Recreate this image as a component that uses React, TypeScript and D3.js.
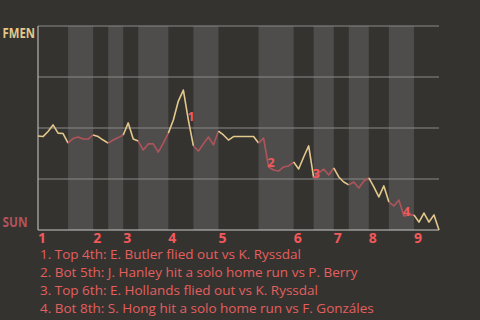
import React from "react";
import * as d3 from "d3";

// Win probability for FMEN (0 = SUN wins, 100 = FMEN wins), one value per play
const winProb: number[] = [
  46.1, 45.8, 48.3, 51.5, 47.5, 47.3, 42.6, 44.9, 45.6, 44.6,
  44.6, 46.6, 45.8, 44.1, 42.6, 44.1, 45.3, 46.6, 52.5, 44.6,
  43.6, 39.2, 42.2, 42.2, 38.2, 42.6, 47.5, 53.9, 63.2, 68.6,
  53.9, 41.2, 38.7, 42.2, 45.6, 41.7, 48.5, 46.6, 44.1, 45.8,
  45.8, 45.8, 45.8, 45.8, 42.6, 45.1, 30.9, 29.4, 28.9, 30.9,
  31.4, 33.3, 29.9, 35.8, 41.2, 25.5, 27.9, 29.9, 27.0, 30.4,
  26.0, 23.5, 22.1, 23.5, 20.6, 24.0, 25.5, 21.1, 16.2, 21.6,
  13.7, 11.8, 14.7, 6.9, 7.4, 7.4, 3.9, 8.3, 3.9, 7.4,
  0,
];

// number of plays in each half inning (top 1st, bot 1st, ...)
const halfInningPlays: number[] = [6, 5, 3, 3, 3, 6, 5, 5, 8, 7, 4, 4, 3, 4, 4, 5, 5];
const inningLabels: string[] = ["1", "2", "3", "4", "5", "6", "7", "8", "9"];

const teams: string[] = ["FMEN", "SUN"];
const yTicks: number[] = [0, 25, 50, 75, 100];

const notePlays: number[] = [30, 46, 55, 73];
const noteLabels: string[] = ["1", "2", "3", "4"];
const noteTexts: string[] = [
  "1. Top 4th: E. Butler flied out vs K. Ryssdal",
  "2. Bot 5th: J. Hanley hit a solo home run vs P. Berry",
  "3. Top 6th: E. Hollands flied out vs K. Ryssdal",
  "4. Bot 8th: S. Hong hit a solo home run vs F. Gonzáles",
];

const W = 480;
const H = 320;
const BG = "#353330";
const BAND = "#4e4d4b";
const GRID = "#8a8987";
const TAN = "#e3c88c";
const RED = "#b0545b";
const NOTE = "#f2595b";
const TEXT = "#e45f5e";
const FONT = "'Open Sans', 'Noto Sans', sans-serif";

export default function App() {
  const left = 38;
  const right = 439;
  const top = 26;
  const bottom = 230;
  const n = winProb.length - 1;
  const x = d3.scaleLinear().domain([0, n]).range([left, right]);
  const y = d3.scaleLinear().domain([0, 100]).range([bottom, top]);

  // half inning boundaries
  const bounds: number[] = [0];
  halfInningPlays.forEach((c) => bounds.push(bounds[bounds.length - 1] + c));

  const line = d3
    .line<number>()
    .x((i) => x(i))
    .y((i) => y(winProb[i]));

  const segs = halfInningPlays.map((_, h) => {
    const idx = d3.range(bounds[h], bounds[h + 1] + 1);
    return { d: line(idx) || "", color: h % 2 === 0 ? TAN : RED, key: h };
  });

  return (
    <svg
      width={W}
      height={H}
      style={{ position: "absolute", left: 0, top: 0, background: BG, display: "block" }}
    >
      <rect x={0} y={0} width={W} height={H} fill={BG} />
      {halfInningPlays.map((_, h) =>
        h % 2 === 1 ? (
          <rect
            key={"b" + h}
            x={x(bounds[h])}
            y={top}
            width={x(bounds[h + 1]) - x(bounds[h])}
            height={bottom - top}
            fill={BAND}
          />
        ) : null
      )}
      {yTicks.map((t) => (
        <line
          key={"g" + t}
          x1={left}
          x2={right}
          y1={y(t)}
          y2={y(t)}
          stroke={t === 0 ? "#c9c8c6" : GRID}
          strokeWidth={1.2}
        />
      ))}
      <line x1={left} x2={left} y1={top} y2={bottom} stroke="#b5b4b2" strokeWidth={1.2} />
      {segs.map((s) => (
        <path key={s.key} d={s.d} fill="none" stroke={s.color} strokeWidth={1.6} strokeLinejoin="round" />
      ))}
      {notePlays.map((p, k) => (
        <text
          key={"n" + k}
          x={x(p) + 2.5}
          y={y(winProb[p]) + 0.5}
          fill={NOTE}
          fontFamily={FONT}
          fontWeight="bold"
          fontSize={13}
          textAnchor="middle"
        >
          {noteLabels[k]}
        </text>
      ))}
      <text
        x={2.5}
        y={38.3}
        fill={TAN}
        fontFamily={FONT}
        fontWeight="bold"
        fontSize={15}
        textLength={32.5}
        lengthAdjust="spacingAndGlyphs"
      >
        {teams[0]}
      </text>
      <text
        x={2.5}
        y={226.5}
        fill={RED}
        fontFamily={FONT}
        fontWeight="bold"
        fontSize={13.5}
        textLength={25}
        lengthAdjust="spacingAndGlyphs"
      >
        {teams[1]}
      </text>
      {inningLabels.map((l, k) => (
        <text
          key={"i" + k}
          x={x(bounds[k * 2])}
          y={243}
          fill={NOTE}
          fontFamily={FONT}
          fontWeight="bold"
          fontSize={14}
        >
          {l}
        </text>
      ))}
      {noteTexts.map((t, k) => (
        <text key={"t" + k} x={40} y={259.3 + k * 17.8} fill={TEXT} fontFamily={FONT} fontSize={13.5}>
          {t}
        </text>
      ))}
    </svg>
  );
}
